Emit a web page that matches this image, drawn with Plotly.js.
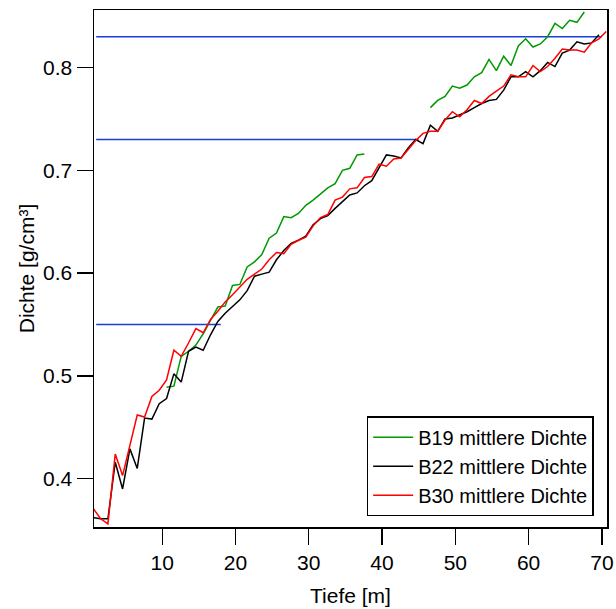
<!DOCTYPE html>
<html>
<head>
<meta charset="utf-8">
<script src="https://cdn.plot.ly/plotly-3.0.1.min.js"></script>
<style>html,body{margin:0;padding:0;background:#fff;}#chart{width:616px;height:609px;}</style>
</head>
<body>
<div id="chart"></div>
<script>
// Depth [m]
const depth = [0.6,1.6,2.6,3.6,4.6,5.6,6.6,7.6,8.6,9.6,10.6,11.6,12.6,13.6,14.6,15.6,16.6,17.6,18.6,19.6,
  20.6,21.6,22.6,23.6,24.6,25.6,26.6,27.6,28.6,29.6,30.6,31.6,32.6,33.6,34.6,35.6,36.6,37.6,38.6,39.6,
  40.6,41.6,42.6,43.6,44.6,45.6,46.6,47.6,48.6,49.6,50.6,51.6,52.6,53.6,54.6,55.6,56.6,57.6,58.6,59.6,
  60.6,61.6,62.6,63.6,64.6,65.6,66.6,67.6,68.6,69.6,70.6];

// B19 mittlere Dichte (gaps = no data)
const b19 = [null,null,null,null,null,null,null,null,null,null,
  0.489,0.490,0.519,0.524,0.530,0.541,0.554,0.567,0.568,0.588,
  0.589,0.606,0.611,0.618,0.634,0.639,0.655,0.654,0.658,0.666,
  0.671,0.677,0.683,0.687,0.700,0.702,0.715,0.716,null,null,
  null,null,null,null,null,null,0.761,0.768,0.772,0.782,
  0.780,0.783,0.791,0.795,0.808,0.797,0.811,0.802,0.821,0.828,
  0.820,0.823,0.830,0.843,0.838,0.846,0.844,0.854,null,null,null];

// B22 mittlere Dichte
const b22 = [0.362,0.361,0.361,0.416,0.390,0.429,0.410,0.459,0.458,0.473,
  0.478,0.502,0.494,0.524,0.528,0.525,0.540,0.553,0.561,0.568,
  0.574,0.583,0.597,0.599,0.601,0.613,0.622,0.629,0.632,0.636,
  0.647,0.653,0.656,0.663,0.670,0.676,0.678,0.685,0.690,0.702,
  0.715,0.714,0.712,0.722,0.730,0.726,0.744,0.738,0.750,0.751,
  0.754,0.757,0.761,0.765,0.768,0.769,0.778,0.791,0.791,0.796,
  0.791,0.797,0.805,0.801,0.814,0.817,0.825,0.823,0.824,0.832,null];

// B30 mittlere Dichte
const b30 = [0.371,0.361,0.356,0.424,0.403,0.432,0.462,0.460,0.480,0.486,
  0.496,0.525,0.519,0.532,0.546,0.542,0.555,0.563,0.572,0.579,
  0.587,0.594,0.599,0.604,0.613,0.620,0.619,0.628,0.632,0.635,
  0.646,0.654,0.657,0.671,0.674,0.682,0.683,0.693,0.694,0.706,
  0.704,0.711,0.712,0.721,0.729,0.736,0.738,0.738,0.749,0.757,
  0.752,0.759,0.768,0.765,0.772,0.777,0.782,0.793,0.791,0.791,
  0.802,0.796,0.801,0.809,0.818,0.817,0.817,0.815,0.824,0.828,0.835];

// Reference levels (blue horizontal lines): [start depth, end depth, density]
const refStart = [1, 1, 1];
const refEnd = [18, 45, 70];
const refLevel = [0.55, 0.73, 0.83];

const seriesNames = ['B19 mittlere Dichte', 'B22 mittlere Dichte', 'B30 mittlere Dichte'];
const xTicks = [10, 20, 30, 40, 50, 60, 70];
const yTicks = [0.4, 0.5, 0.6, 0.7, 0.8];

const FONT = 'Liberation Sans, Arial, Helvetica, sans-serif';
const traces = [];
for (let i = 0; i < refLevel.length; i++) {
  traces.push({x: [refStart[i], refEnd[i]], y: [refLevel[i], refLevel[i]], mode: 'lines',
    line: {color: '#1a3fd6', width: 1.6}, showlegend: false, hoverinfo: 'skip'});
}
traces.push({x: depth, y: b19, name: seriesNames[0], mode: 'lines', connectgaps: false,
  line: {color: '#009900', width: 1.5}});
traces.push({x: depth, y: b22, name: seriesNames[1], mode: 'lines',
  line: {color: '#000000', width: 1.5}});
traces.push({x: depth, y: b30, name: seriesNames[2], mode: 'lines',
  line: {color: '#ff0000', width: 1.5}});

const layout = {
  width: 616, height: 609,
  margin: {l: 94, r: 9, t: 10, b: 82, pad: 0},
  paper_bgcolor: '#ffffff', plot_bgcolor: '#ffffff',
  font: {family: FONT, size: 21, color: '#000'},
  showlegend: true,
  legend: {x: 0.974, y: 0.021, xanchor: 'right', yanchor: 'bottom',
    bgcolor: '#ffffff', bordercolor: '#000', borderwidth: 1.5,
    font: {family: FONT, size: 20, color: '#000'}, tracegroupgap: 0, itemwidth: 40},
  xaxis: {range: [0.7, 70.7], tickvals: xTicks, ticktext: xTicks.map(String),
    ticks: 'outside', ticklen: 16, tickwidth: 1.3, tickcolor: '#000',
    showline: true, mirror: true, linecolor: '#000', linewidth: 1.5,
    showgrid: false, zeroline: false, tickfont: {family: FONT, size: 21},
    title: {text: 'Tiefe [m]', font: {family: FONT, size: 21}, standoff: 15}},
  yaxis: {range: [0.353, 0.856], tickvals: yTicks, ticktext: yTicks.map(v => v.toFixed(1)),
    ticks: 'outside', ticklen: 16, tickwidth: 1.3, tickcolor: '#000',
    showline: true, mirror: true, linecolor: '#000', linewidth: 1.5,
    showgrid: false, zeroline: false, tickfont: {family: FONT, size: 21},
    title: {text: 'Dichte [g/cm³]', font: {family: FONT, size: 21}, standoff: 2}}
};

Plotly.newPlot('chart', traces, layout, {displayModeBar: false, staticPlot: true});
</script>
</body>
</html>
